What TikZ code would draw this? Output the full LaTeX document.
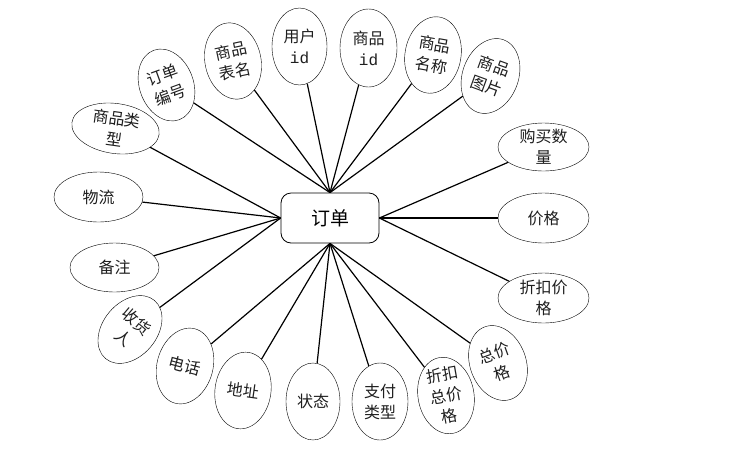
\documentclass[tikz,border=0pt]{standalone}
\usepackage{fontspec}
\setmainfont{Noto Sans CJK SC}
\newfontfamily\idfont{Liberation Mono}
\usetikzlibrary{shapes.geometric}

\definecolor{cLINE}{RGB}{0,0,0}
\definecolor{cTEXT}{RGB}{30,30,30}

\tikzset{
  vattr/.style={draw,ellipse,thin,minimum width=56pt,minimum height=77pt,inner sep=0pt,
    align=center,text=cTEXT,font=\fontsize{16}{21}\selectfont},
  hattr/.style={draw,ellipse,thin,minimum width=90pt,minimum height=49pt,inner xsep=0pt,
    inner ysep=-3pt,align=center,text=cTEXT,font=\fontsize{16}{21}\selectfont},
  link/.style={cLINE,line width=1.2pt}
}

\begin{document}
\begin{tikzpicture}[x=1pt,y=-1pt]
\useasboundingbox (0,0) rectangle (739,459);
\node[draw,rounded corners=10pt,line width=0.8pt,minimum width=98pt,minimum height=50pt,
  font=\fontsize{19}{22}\selectfont] (order) at (330,218) {订单};
% upper arc
\node[hattr,minimum width=88pt,minimum height=50pt,rotate=-8] (gtype) at (115.5,128.5) {商品类\\型};
\node[vattr,minimum width=54pt,minimum height=74pt,rotate=20] (ono) at (166.5,85) {订单\\编号};
\node[vattr,rotate=12] (gtbl) at (233,61) {商品\\表名};
\node[vattr,minimum width=55pt] (uid) at (299.5,46.5) {用户\\{\idfont id}};
\node[vattr,minimum width=57pt,minimum height=78pt] (gid) at (368.5,48) {商品\\{\idfont id}};
\node[vattr,rotate=-10] (gname) at (433,55) {商品\\名称};
\node[vattr,rotate=-20] (gpic) at (490.5,76) {商品\\图片};
% right side
\node[hattr,minimum width=91pt,minimum height=48pt] (qty) at (543.5,147) {购买数\\量};
\node[hattr,minimum width=91pt,minimum height=50pt] (price) at (543.5,218) {价格};
\node[hattr,minimum width=91pt,minimum height=50pt] (dprice) at (543.5,298) {折扣价\\格};
% lower arc
\node[vattr,rotate=20] (total) at (498,363) {总价\\格};
\node[vattr,inner ysep=-8pt,rotate=10] (dtotal) at (446,395.5) {折扣\\总价\\格};
\node[vattr] (pay) at (380,401.5) {支付\\类型};
\node[vattr,minimum width=54pt] (state) at (313,401.5) {状态};
\node[vattr,rotate=-8] (addr) at (243,390.5) {地址};
\node[vattr,rotate=-15] (tel) at (185,366) {电话};
\node[vattr,minimum width=54pt,minimum height=76pt,rotate=-40] (recv) at (130,329.5) {收货\\人};
% left side
\node[hattr,minimum width=89pt] (memo) at (114.5,267.5) {备注};
\node[hattr,minimum width=89pt,minimum height=50pt] (ship) at (98.5,197) {物流};
% links
\draw[link] (gtype) -- (order.west);
\draw[link] (ship) -- (order.west);
\draw[link] (memo) -- (order.west);
\draw[link] (recv) -- (order.west);
\draw[link] (ono) -- (order.north);
\draw[link] (gtbl) -- (order.north);
\draw[link] (uid) -- (order.north);
\draw[link] (gid) -- (order.north);
\draw[link] (gname) -- (order.north);
\draw[link] (gpic) -- (order.north);
\draw[link] (qty) -- (order.east);
\draw[link] (price) -- (order.east);
\draw[link] (dprice) -- (order.east);
\draw[link] (total) -- (order.south);
\draw[link] (dtotal) -- (order.south);
\draw[link] (pay) -- (order.south);
\draw[link] (state) -- (order.south);
\draw[link] (addr) -- (order.south);
\draw[link] (tel) -- (order.south);
\end{tikzpicture}
\end{document}
